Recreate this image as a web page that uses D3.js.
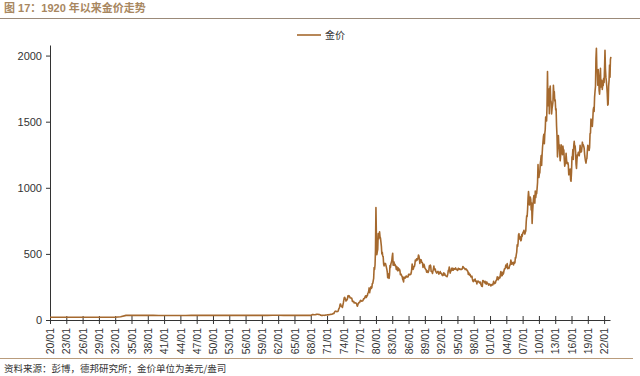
<!DOCTYPE html>
<html>
<head>
<meta charset="utf-8">
<script src="https://cdn.jsdelivr.net/npm/d3@7"></script>
<style>
  body { margin: 0; background: #fff; }
  svg { display: block; font-family: "Liberation Sans", Arial, sans-serif; }
  .axis path, .axis line { stroke: #333; }
  .axis text { fill: #333; font-size: 11px; }
</style>
</head>
<body>
<svg id="graph" width="640" height="376"></svg>
<script>
// annual values 1920-1967 (US$/oz)
var earlyYears = d3.range(1920, 1968);
var earlyPrices = [20.7, 20.7, 20.7, 20.7, 20.7, 20.7, 20.7, 20.7, 20.7, 20.7,
    20.7, 20.7, 20.7, 24.5, 35.0, 35.0, 35.0, 35.0, 35.0, 35.0,
    33.9, 33.9, 33.9, 33.9, 33.9, 33.9, 35.0, 35.0, 35.0, 35.0,
    35.0, 35.0, 35.0, 35.0, 35.0, 35.0, 35.0, 35.0, 35.0, 35.0,
    35.3, 35.5, 35.4, 35.1, 35.1, 35.1, 35.2, 35.2];

// monthly values, each list starts in January of its start year
var start1968 = 1968;
var gold1968 = [
    35.2, 35.2, 37.5, 39.5, 41.5, 41.0, 40.5, 39.3, 39.5, 39.3, 39.8, 41.1,
    42.5, 42.5, 43.2, 43.3, 43.6, 41.5, 41.9, 41.0, 40.6, 38.6, 35.4, 35.2,
    34.9, 35.0, 35.1, 35.9, 36.0, 35.5, 35.3, 35.4, 36.2, 37.5, 37.4, 37.4,
    37.9, 38.7, 38.9, 39.0, 40.5, 40.1, 41.0, 42.7, 42.0, 42.5, 42.9, 43.5,
    45.8, 48.3, 48.3, 49.0, 54.6, 62.1, 65.7, 67.0, 65.5, 64.9, 62.9, 64.9,
    65.1, 74.2, 84.4, 90.5, 102.0, 120.1, 120.0, 106.8, 103.0, 100.1, 94.8, 112.3,
    129.2, 150.2, 168.4, 172.2, 163.3, 154.1, 143.0, 154.6, 151.8, 158.8, 181.7, 183.8,
    175.8, 181.8, 177.1, 167.4, 167.0, 166.3, 166.7, 159.7, 141.3, 142.9, 138.2, 140.3,
    128.2, 132.3, 129.6, 128.4, 126.9, 125.7, 112.5, 104.0, 116.0, 123.2, 130.3, 134.5,
    132.3, 142.8, 148.9, 148.0, 143.0, 143.0, 144.1, 146.0, 154.1, 161.5, 160.5, 164.9,
    175.8, 182.3, 181.6, 170.9, 184.2, 183.1, 200.3, 208.1, 217.1, 242.6, 206.0, 226.0,
    233.7, 251.3, 240.1, 245.3, 274.6, 277.5, 296.5, 315.1, 397.3, 382.0, 415.7, 524.0
];
var start1980 = 1980;
var gold1980 = [
    850, 637, 494, 518, 535, 653, 614, 631, 667, 629, 620, 590,
    557, 499, 513, 482, 479, 423, 409, 425, 428, 427, 414, 400,
    384, 362, 320, 350, 325, 315, 342, 411, 397, 423, 436, 448,
    481, 505, 414, 430, 438, 413, 422, 414, 405, 382, 405, 382,
    373, 394, 388, 375, 384, 373, 342, 348, 343, 333, 329, 309,
    302, 288, 325, 321, 316, 317, 327, 333, 326, 325, 325, 327,
    345, 339, 345, 345, 343, 345, 357, 384, 423, 401, 383, 391,
    405, 406, 421, 453, 451, 448, 463, 453, 459, 468, 492, 484,
    458, 428, 457, 450, 455, 437, 437, 428, 398, 412, 422, 410,
    394, 387, 383, 378, 362, 373, 368, 359, 366, 377, 409, 401
];
var start1990 = 1990;
var gold1990 = [
    415, 407, 368, 367, 363, 352, 372, 387, 408, 380, 384, 386,
    366, 363, 355, 357, 366, 368, 362, 347, 354, 357, 366, 353,
    354, 353, 341, 336, 337, 343, 357, 340, 349, 339, 334, 333,
    330, 327, 337, 354, 377, 378, 401, 371, 355, 370, 371, 391,
    377, 381, 392, 376, 387, 388, 384, 385, 394, 383, 383, 383,
    375, 377, 391, 389, 385, 387, 383, 382, 384, 383, 387, 387,
    405, 400, 396, 392, 390, 382, 385, 387, 379, 379, 371, 369,
    345, 358, 348, 340, 345, 334, 326, 325, 332, 311, 296, 290,
    302, 297, 301, 310, 293, 296, 288, 273, 293, 292, 294, 288,
    285, 287, 279, 286, 268, 261, 255, 254, 299, 299, 291, 290
];
var start2000 = 2000;
var gold2000 = [
    283, 293, 276, 275, 272, 288, 276, 277, 273, 264, 270, 272,
    265, 267, 258, 264, 267, 270, 265, 273, 293, 279, 275, 277,
    282, 296, 301, 308, 326, 318, 304, 312, 324, 317, 319, 347,
    367, 347, 334, 336, 361, 346, 354, 375, 388, 386, 398, 416,
    403, 397, 427, 388, 393, 395, 391, 407, 415, 425, 453, 435,
    422, 435, 427, 435, 417, 437, 429, 433, 473, 470, 495, 513,
    569, 556, 582, 644, 653, 613, 632, 623, 599, 604, 646, 632,
    650, 665, 662, 679, 659, 650, 665, 673, 743, 789, 783, 836,
    923, 971, 933, 871, 885, 930, 913, 833, 884, 730, 814, 870,
    919, 942, 916, 883, 975, 926, 955, 955, 996, 1040, 1175, 1087
];
var start2010 = 2010;
var gold2010 = [
    1078, 1108, 1113, 1179, 1207, 1244, 1169, 1246, 1307, 1346, 1386, 1405,
    1333, 1411, 1439, 1535, 1536, 1505, 1628, 1880, 1620, 1722, 1746, 1560,
    1744, 1770, 1662, 1651, 1558, 1598, 1622, 1648, 1776, 1719, 1726, 1657,
    1664, 1588, 1598, 1467, 1394, 1234, 1313, 1396, 1326, 1324, 1253, 1204,
    1244, 1326, 1291, 1288, 1250, 1315, 1285, 1287, 1216, 1164, 1182, 1199,
    1260, 1212, 1183, 1182, 1190, 1171, 1098, 1134, 1115, 1142, 1061, 1050,
    1118, 1234, 1233, 1290, 1215, 1320, 1351, 1309, 1316, 1272, 1178, 1146,
    1211, 1249, 1249, 1268, 1268, 1242, 1269, 1322, 1280, 1270, 1275, 1303,
    1345, 1318, 1325, 1315, 1299, 1253, 1224, 1202, 1187, 1215, 1222, 1279,
    1321, 1313, 1292, 1283, 1305, 1409, 1414, 1520, 1472, 1511, 1464, 1517
];
var start2020 = 2020;
var gold2020 = [
    1589, 1609, 1577, 1686, 1730, 1768, 1975, 2055, 1887, 1879, 1776, 1895,
    1848, 1734, 1708, 1769, 1903, 1763, 1814, 1813, 1743, 1783, 1774, 1829,
    1796, 1909, 2040, 1897, 1837, 1807, 1766, 1711, 1625, 1633, 1768, 1812,
    1928, 1836, 1969, 1990
];

var yTicks = [0, 500, 1000, 1500, 2000];
var xTickYears = d3.range(1920, 2023, 3);

// build one series of {date, value}
var data = earlyYears.map(function (yr, i) {
    return { date: new Date(yr, 0, 1), value: earlyPrices[i] };
});
[[start1968, gold1968], [start1980, gold1980], [start1990, gold1990],
 [start2000, gold2000], [start2010, gold2010], [start2020, gold2020]].forEach(function (s) {
    s[1].forEach(function (v, i) {
        data.push({ date: new Date(s[0], i, 1), value: v });
    });
});

var svg = d3.select('#graph');
var margin = { top: 45, left: 50, bottom: 56, right: 30 };
var x0 = margin.left, x1 = 610, yBase = 320;

var xScale = d3.scaleTime()
    .domain([new Date(1920, 0, 1), new Date(2023, 1, 1)])
    .range([x0, x1]);
var yScale = d3.scaleLinear()
    .domain([0, 2080])
    .range([yBase, margin.top]);

// title
svg.append('text')
    .attr('x', 4)
    .attr('y', 12)
    .attr('fill', '#a8875f')
    .style('font-family', '"Liberation Sans", "Noto Sans CJK SC", sans-serif')
    .style('font-size', '11px')
    .style('font-weight', 'bold')
    .text('图 17：1920 年以来金价走势');
svg.append('line')
    .attr('x1', 0).attr('x2', 640)
    .attr('y1', 18.5).attr('y2', 18.5)
    .attr('stroke', '#9b8a79')
    .attr('stroke-width', 1);

// y axis
svg.append('g')
    .attr('class', 'y axis')
    .attr('transform', 'translate(' + x0 + ',0)')
    .call(d3.axisLeft(yScale).tickValues(yTicks).tickFormat(d3.format('d'))
        .tickSize(4).tickSizeOuter(0).tickPadding(4))
    .call(function (g) { g.selectAll('text').style('font-size', '11px'); });

// x axis, ticks cross the line
var xAxis = svg.append('g')
    .attr('class', 'x axis')
    .attr('transform', 'translate(0,' + yBase + ')')
    .call(d3.axisBottom(xScale)
        .tickValues(xTickYears.map(function (yr) { return new Date(yr, 0, 1); }))
        .tickFormat(d3.timeFormat('%y/%m'))
        .tickSize(4)
        .tickSizeOuter(0));
xAxis.selectAll('.tick line').attr('y1', -4).attr('y2', 4);
xAxis.selectAll('.tick text')
    .attr('transform', 'rotate(-90)')
    .attr('x', -8)
    .attr('y', 0)
    .attr('dy', '0.35em')
    .style('text-anchor', 'end')
    .style('font-size', '10.5px');

// gold line
var line = d3.line()
    .x(function (d) { return xScale(d.date); })
    .y(function (d) { return yScale(d.value); });

svg.append('path')
    .datum(data)
    .attr('fill', 'none')
    .attr('stroke', '#a5692e')
    .attr('stroke-width', 1.6)
    .attr('stroke-linejoin', 'round')
    .attr('d', line);

// legend
svg.append('line')
    .attr('x1', 297).attr('x2', 321)
    .attr('y1', 35).attr('y2', 35)
    .attr('stroke', '#a5692e')
    .attr('stroke-width', 1.6);
svg.append('text')
    .attr('x', 325)
    .attr('y', 39)
    .attr('fill', '#333')
    .style('font-family', '"Noto Sans CJK SC", sans-serif')
    .style('font-size', '10px')
    .text('金价');

// source note
svg.append('line')
    .attr('x1', 0).attr('x2', 633)
    .attr('y1', 358.5).attr('y2', 358.5)
    .attr('stroke', '#b99c7c')
    .attr('stroke-width', 1);
svg.append('text')
    .attr('x', 4)
    .attr('y', 372)
    .attr('fill', '#333')
    .style('font-family', '"Noto Sans CJK SC", sans-serif')
    .style('font-size', '9.5px')
    .text('资料来源：彭博，德邦研究所；金价单位为美元/盎司');
</script>
</body>
</html>
